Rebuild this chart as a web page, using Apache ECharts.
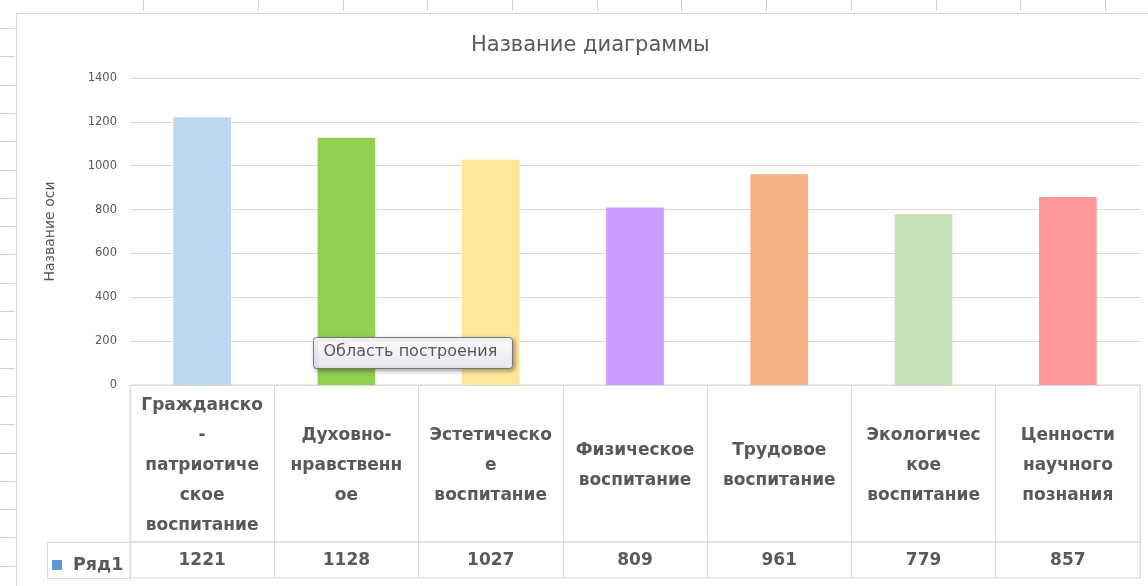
<!DOCTYPE html>
<html>
<head>
<meta charset="utf-8">
<script src="https://cdn.jsdelivr.net/npm/echarts@6/dist/echarts.min.js"></script>
<style>
  html, body { margin: 0; padding: 0; background: #fff; }
  #chart { width: 1148px; height: 586px; }
</style>
</head>
<body>
<div id="chart"></div>
<script>
// данные диаграммы
const categories = [
  'Гражданско\n-\nпатриотиче\nское\nвоспитание',
  'Духовно-\nнравственн\nое',
  'Эстетическо\nе\nвоспитание',
  'Физическое\nвоспитание',
  'Трудовое\nвоспитание',
  'Экологичес\nкое\nвоспитание',
  'Ценности\nнаучного\nпознания'
]
const values = [1221, 1128, 1027, 809, 961, 779, 857]
const barColors = ['#BDD7EE', '#92D050', '#FFE699', '#CC99FF', '#F4B183', '#C5E0B4', '#FF9999']
const seriesName = 'Ряд1'
const yMin = 0
const yMax = 1400
const yStep = 200

const textColor = '#595959'
const lineColor = '#d9d9d9'
const baseFont = '"DejaVu Sans", sans-serif'

// оформление листа Excel вокруг диаграммы (не данные)
const decor = []
const colMarks = [143, 258, 343, 427, 512, 597, 681, 766, 851, 936, 1020, 1105]
colMarks.forEach(x => {
  decor.push({ type: 'line', shape: { x1: x + 0.5, y1: 0, x2: x + 0.5, y2: 11 }, style: { stroke: '#d0d0d0', lineWidth: 1 }, silent: true })
})
for (let y = 28; y < 586; y += 28.3) {
  decor.push({ type: 'line', shape: { x1: 0, y1: Math.round(y) + 0.5, x2: 15, y2: Math.round(y) + 0.5 }, style: { stroke: '#d0d0d0', lineWidth: 1 }, silent: true })
}
decor.push({ type: 'line', shape: { x1: 16.5, y1: 13, x2: 16.5, y2: 586 }, style: { stroke: '#d9d9d9', lineWidth: 1 }, silent: true })
decor.push({ type: 'line', shape: { x1: 16, y1: 13.5, x2: 1148, y2: 13.5 }, style: { stroke: '#d9d9d9', lineWidth: 1 }, silent: true })

// ячейка легенды в таблице данных
decor.push({
  type: 'rect',
  shape: { x: 47.5, y: 542.5, width: 83, height: 36 },
  style: { fill: 'none', stroke: lineColor, lineWidth: 1 },
  silent: true
})

// всплывающая подсказка Excel
decor.push({
  type: 'group',
  left: 313,
  top: 337,
  z: 100,
  children: [
    {
      type: 'rect',
      z: 100,
      shape: { x: 0, y: 0, width: 199, height: 31, r: 3 },
      style: {
        fill: new echarts.graphic.LinearGradient(0, 0, 0, 1, [
          { offset: 0, color: '#ffffff' },
          { offset: 1, color: '#e4e5f0' }
        ]),
        stroke: '#767676',
        lineWidth: 1,
        shadowBlur: 4,
        shadowOffsetX: 2,
        shadowOffsetY: 2,
        shadowColor: 'rgba(0,0,0,0.35)'
      }
    },
    {
      type: 'text',
      z: 101,
      x: 10,
      y: 6,
      style: { text: 'Область построения', font: '16px "DejaVu Sans", sans-serif', fill: '#575757' }
    }
  ]
})

const chart = echarts.init(document.getElementById('chart'), null, { renderer: 'canvas' })

chart.setOption({
  animation: false,
  backgroundColor: '#fff',
  title: {
    text: 'Название диаграммы',
    left: 466,
    top: 30,
    textStyle: { color: textColor, fontSize: 21, fontWeight: 'normal', fontFamily: baseFont }
  },
  legend: {
    left: 47,
    top: 551,
    itemWidth: 10,
    itemHeight: 10,
    icon: 'rect',
    selectedMode: false,
    data: [seriesName],
    textStyle: { color: textColor, fontSize: 17.5, fontWeight: 'bold', fontFamily: baseFont, padding: [0, 0, 0, 6] }
  },
  graphic: decor,
  grid: [
    { left: 130, right: 8, top: 78, bottom: 201 },
    { left: 130, right: 8, top: 385, height: 157, show: true, borderColor: lineColor, borderWidth: 1 },
    { left: 130, right: 8, top: 542, height: 36, show: true, borderColor: lineColor, borderWidth: 1 }
  ],
  xAxis: [
    {
      gridIndex: 0,
      type: 'category',
      data: categories,
      axisLine: { show: true, lineStyle: { color: lineColor } },
      axisTick: { show: false },
      axisLabel: { show: false }
    },
    {
      gridIndex: 1,
      type: 'category',
      data: categories,
      position: 'top',
      axisLine: { show: false },
      axisTick: { show: false },
      splitLine: { show: true, lineStyle: { color: lineColor } },
      axisLabel: {
        inside: true,
        margin: 81,
        interval: 0,
        verticalAlign: 'middle',
        align: 'center',
        lineHeight: 30,
        color: textColor,
        fontSize: 17,
        fontWeight: 'bold',
        fontFamily: baseFont
      }
    },
    {
      gridIndex: 2,
      type: 'category',
      data: categories,
      position: 'top',
      axisLine: { show: false },
      axisTick: { show: false },
      splitLine: { show: true, lineStyle: { color: lineColor } },
      axisLabel: {
        inside: true,
        margin: 19,
        interval: 0,
        verticalAlign: 'middle',
        align: 'center',
        color: textColor,
        fontSize: 17,
        fontWeight: 'bold',
        fontFamily: baseFont,
        formatter: (v, i) => String(values[i])
      }
    }
  ],
  yAxis: [
    {
      gridIndex: 0,
      type: 'value',
      min: yMin,
      max: yMax,
      interval: yStep,
      name: 'Название оси',
      nameLocation: 'middle',
      nameGap: 73,
      nameTextStyle: { color: textColor, fontSize: 14, fontFamily: baseFont },
      axisLine: { show: false },
      axisTick: { show: false },
      axisLabel: { color: textColor, fontSize: 11.5, margin: 13, fontFamily: baseFont, formatter: v => String(v) },
      splitLine: { lineStyle: { color: lineColor } }
    },
    { gridIndex: 1, type: 'value', show: false },
    { gridIndex: 2, type: 'value', show: false }
  ],
  series: [
    {
      name: seriesName,
      type: 'bar',
      xAxisIndex: 0,
      yAxisIndex: 0,
      barWidth: '40%',
      itemStyle: { color: '#5B9BD5' },
      data: values.map((v, i) => ({ value: v, itemStyle: { color: barColors[i] } }))
    }
  ]
})
</script>
</body>
</html>
